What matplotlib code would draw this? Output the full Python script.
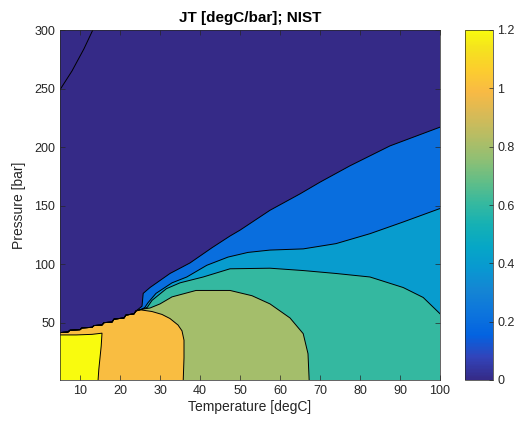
import matplotlib
matplotlib.use("Agg")
import matplotlib.pyplot as plt
from matplotlib.colors import LinearSegmentedColormap, Normalize
from matplotlib.cm import ScalarMappable

# =========================
# Data: JT contour lines (T [degC], P [bar])
# =========================
LEVELS = [0.2, 0.4, 0.6, 0.8, 1.0]

# saturation line (staircase on the coarse grid), shared by the bunched contours
T_STAIR = [5, 7, 7.5, 10, 10.5, 13, 13.5, 15.5, 16, 18, 18.5, 21, 21.5, 23.5, 24, 25.5]
P_STAIR = [41.5, 42, 43.5, 44, 45.5, 46, 47.5, 48, 50, 50.5, 53, 54, 56.5, 57.5, 60, 61.5]

T_02 = [25.5, 25.8, 27.5, 32.5, 37.5, 43, 47.5, 50, 57.5, 65, 70, 77.5, 87.5, 100]
P_02 = [64, 75, 80, 92, 101, 114, 124, 129, 146, 160, 170, 184, 201, 217]

T_04 = [26.2, 27, 29, 33, 36.7, 41.7, 47, 52, 57.5, 65.8, 74, 82.5, 90.8, 100]
P_04 = [63, 67, 75, 84, 89, 99, 106, 110, 112, 113, 117.5, 126, 136, 147.5]

T_06 = [26.8, 28, 31.6, 35, 40.8, 47.5, 57.5, 65.8, 74, 82.5, 90.8, 95.8, 100]
P_06 = [63, 69, 79, 84, 89, 96, 96.5, 94.5, 92, 89, 80, 71.5, 57.6]

T_08 = [27.5, 30, 33, 39, 47.5, 53, 57.5, 62.5, 65.8, 67, 67.3]
P_08 = [62.5, 66, 72, 77.5, 77.5, 73, 66, 54, 40.6, 23.5, 0]

T_10 = [25, 28, 30.5, 32.5, 34.5, 35.5, 36, 36, 35.8]
P_10 = [61, 59.5, 57, 53.5, 48, 43, 35, 20, 0]

T_12 = [5, 9, 13, 15.5, 15.3, 15, 14.7, 14.5]
P_12 = [39.5, 39.5, 40, 41, 30, 20, 10, 0]

# zero crossing (JT < 0 in the top-left corner)
T_00 = [5, 8, 11, 13.2]
P_00 = [249, 265, 284, 300]

XLIM = (5, 100)
YLIM = (1, 300)
CLIM = (0, 1.2)

# =========================
# parula colormap
# =========================
PARULA = [
    (0.2081, 0.1663, 0.5292), (0.1959, 0.2645, 0.7279), (0.0117, 0.3875, 0.8820),
    (0.0498, 0.4586, 0.8641), (0.0793, 0.5200, 0.8312), (0.0343, 0.5966, 0.8199),
    (0.0228, 0.6535, 0.7768), (0.0843, 0.6928, 0.7062), (0.2178, 0.7250, 0.6193),
    (0.3953, 0.7459, 0.5244), (0.5709, 0.7485, 0.4494), (0.7184, 0.7411, 0.3905),
    (0.8507, 0.7299, 0.3360), (0.9739, 0.7314, 0.2666), (0.9880, 0.8066, 0.1794),
    (0.9589, 0.8949, 0.1132), (0.9763, 0.9831, 0.0538),
]
pos = [i * 4 / 63 for i in range(16)] + [1.0]
cmap = LinearSegmentedColormap.from_list("parula", list(zip(pos, PARULA)))
norm = Normalize(*CLIM)

plt.rcParams['font.family'] = ['Liberation Sans', 'DejaVu Sans']
TXT = (0.15, 0.15, 0.15)

fig = plt.figure(figsize=(5.16, 4.21), dpi=100)
ax = fig.add_axes([60 / 516, 1 - 380 / 421, 380 / 516, 350 / 421])
cax = fig.add_axes([465 / 516, 1 - 380 / 421, 28 / 516, 350 / 421])

# background band (JT below 0.2)
ax.fill([XLIM[0], XLIM[1], XLIM[1], XLIM[0]], [0, 0, YLIM[1], YLIM[1]],
        color=cmap(norm(0)), lw=0)


def band(tail_t, tail_p, level, with_stair=True):
    if with_stair:
        keep = [i for i, t in enumerate(T_STAIR) if t < tail_t[0]]
        ct = [T_STAIR[i] for i in keep] + list(tail_t)
        cp = [P_STAIR[i] for i in keep] + list(tail_p)
    else:
        ct, cp = list(tail_t), list(tail_p)
    # region above this level lies below the line
    ax.fill(ct + [ct[-1], XLIM[0]], cp + [0, 0], color=cmap(norm(level)), lw=0)
    return ct, cp


lines = []
for lev, tt, pp in zip(LEVELS, [T_02, T_04, T_06, T_08, T_10],
                       [P_02, P_04, P_06, P_08, P_10]):
    lines.append(band(tt, pp, lev))
lines.append(band(T_12, P_12, 1.2, with_stair=False))

for ct, cp in lines:
    ax.plot(ct, cp, color='k', lw=0.7)
ax.plot(T_00, P_00, color='k', lw=0.7)

ax.set_xlim(*XLIM)
ax.set_ylim(*YLIM)
ax.set_xticks(range(10, 101, 10))
ax.set_yticks(range(50, 301, 50))
ax.tick_params(direction='in', length=3.5, width=0.5, top=True, right=True,
               labelsize=9, colors=TXT, labelcolor=TXT)
for s in ax.spines.values():
    s.set_linewidth(0.5)
    s.set_color(TXT)

ax.set_xlabel("Temperature [degC]", fontsize=10, color=TXT, labelpad=2)
ax.set_ylabel("Pressure [bar]", fontsize=10, color=TXT, labelpad=6)
ax.set_title("JT [degC/bar]; NIST", fontsize=11, fontweight='bold', color='k', pad=6)

# colorbar
sm = ScalarMappable(norm=norm, cmap=cmap)
cb = fig.colorbar(sm, cax=cax, ticks=[0, 0.2, 0.4, 0.6, 0.8, 1.0, 1.2])
cb.ax.set_yticklabels(["0", "0.2", "0.4", "0.6", "0.8", "1", "1.2"])
cb.ax.tick_params(direction='in', length=3, width=0.5, labelsize=9,
                  colors=TXT, labelcolor=TXT, pad=3)
cb.outline.set_linewidth(0.5)
cb.outline.set_edgecolor(TXT)

fig.savefig("out.png", dpi=100)
